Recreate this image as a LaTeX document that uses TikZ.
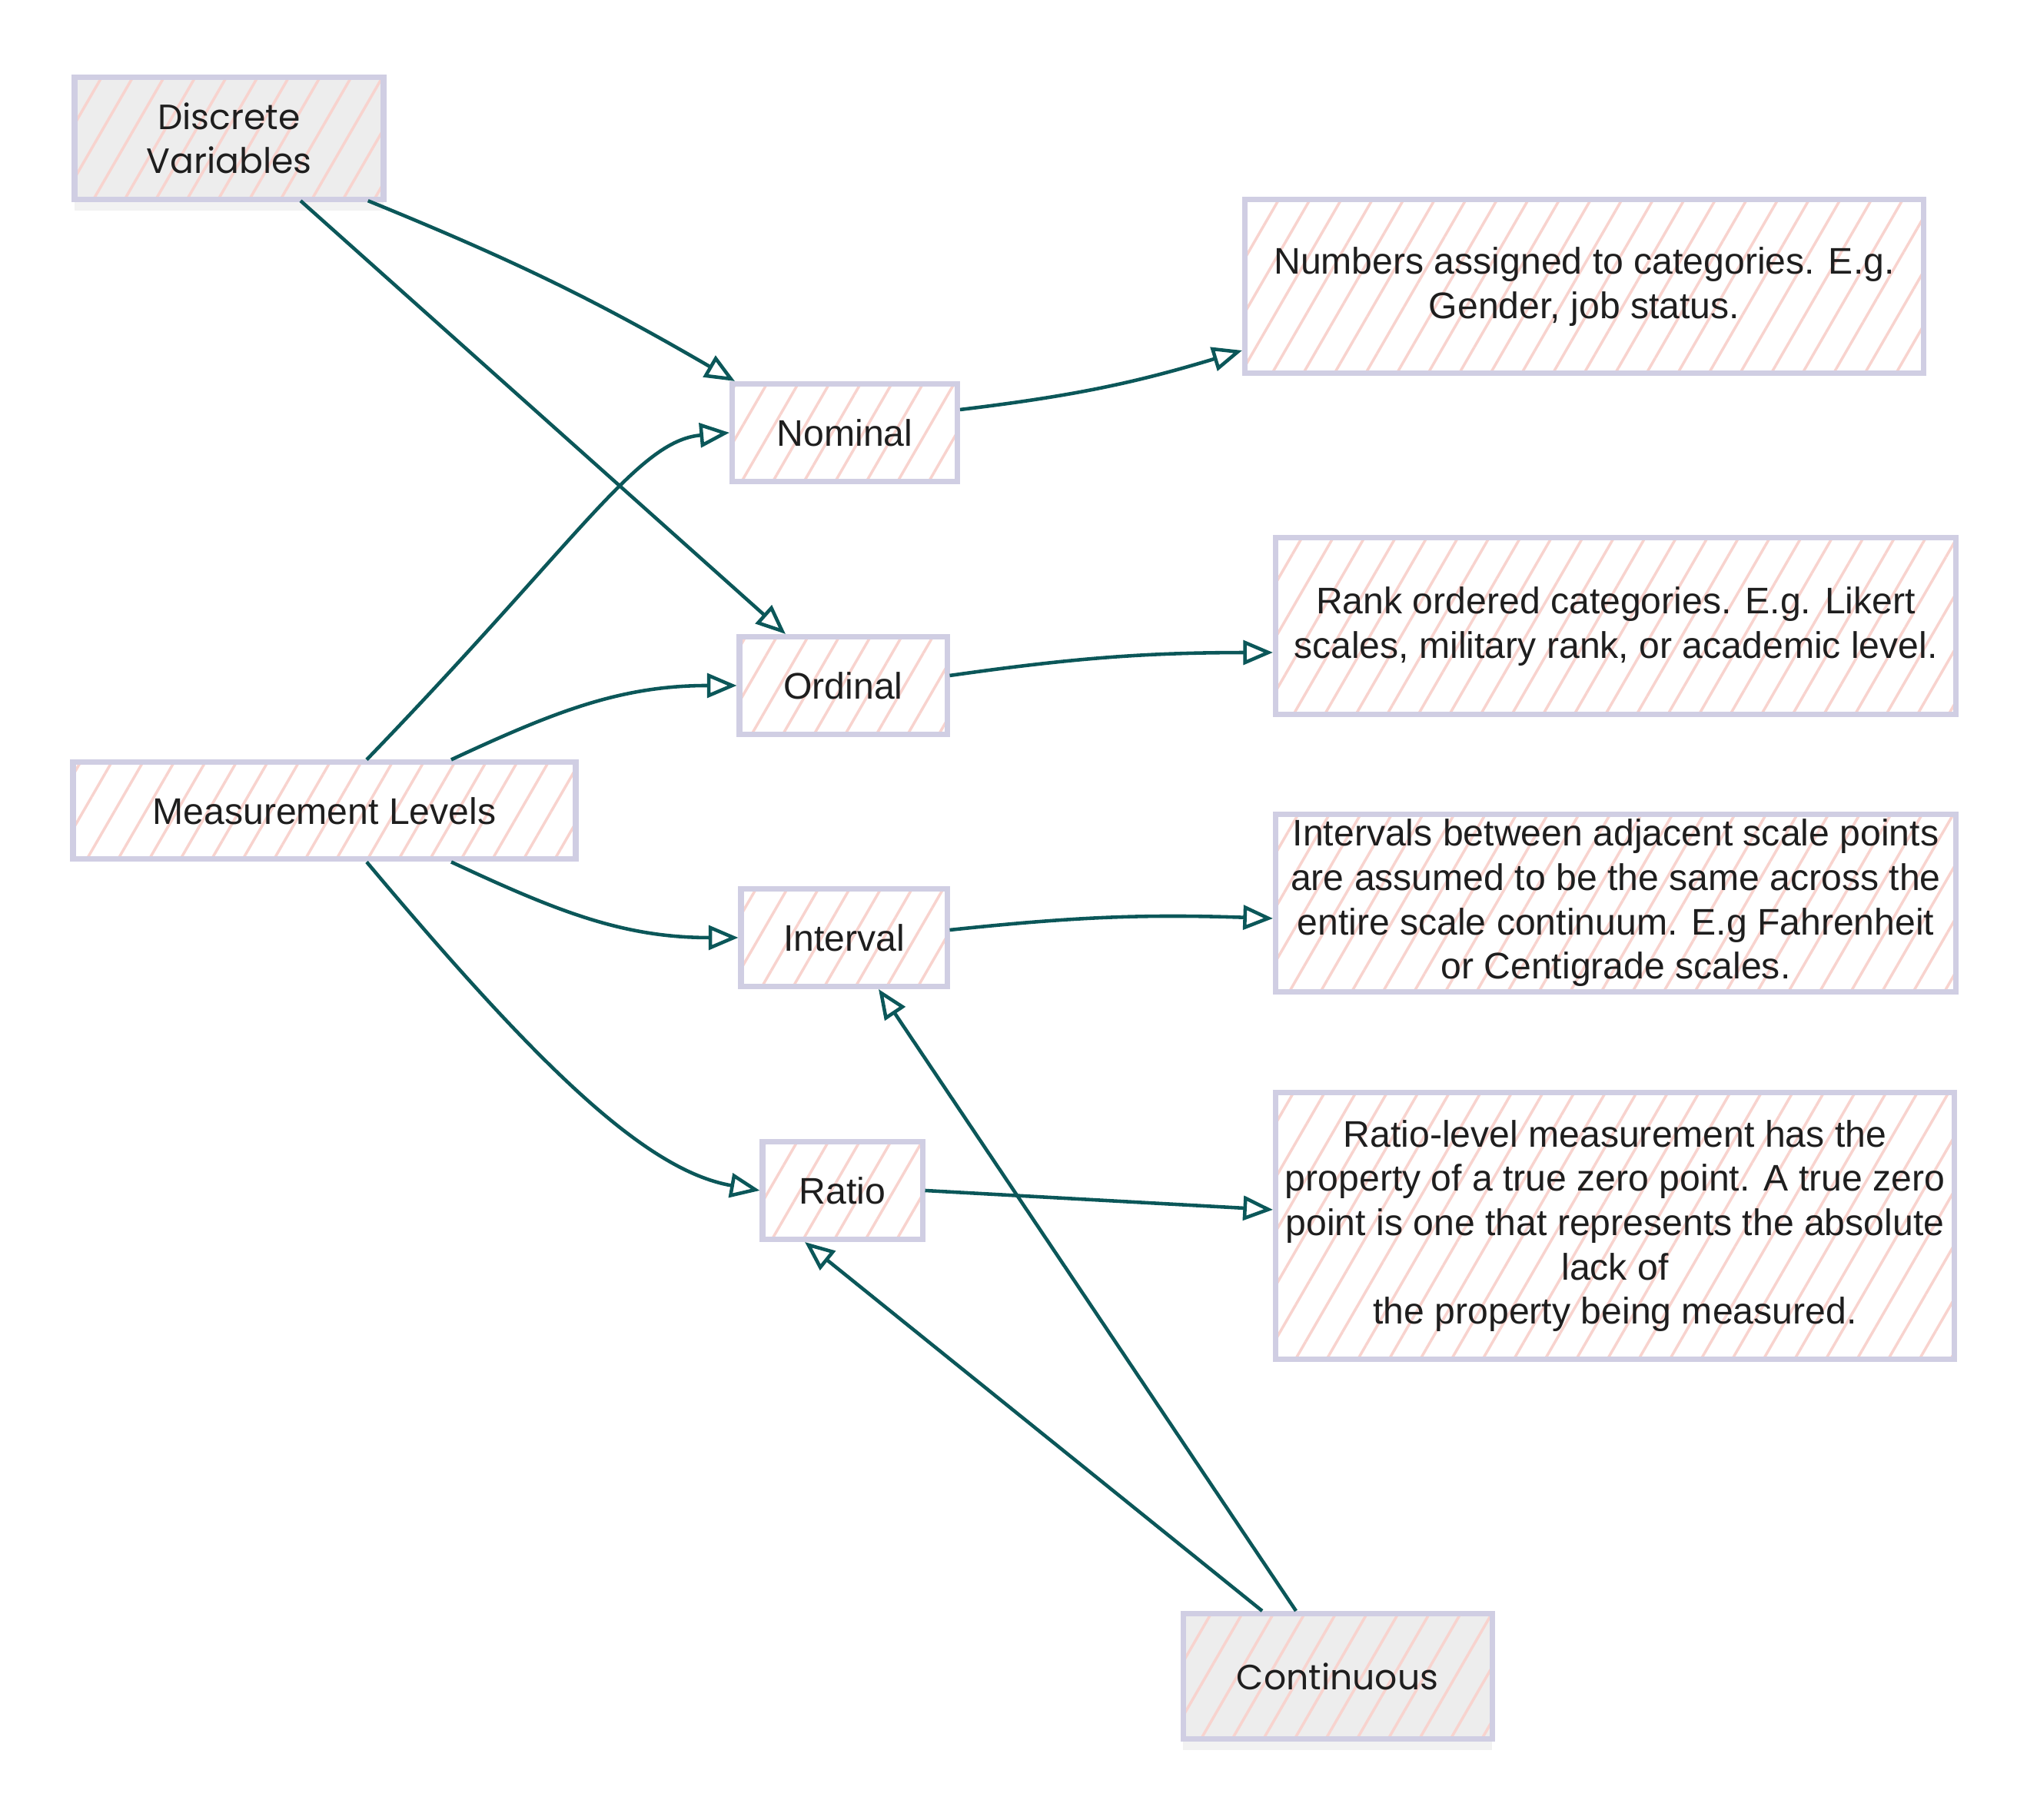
\documentclass[tikz,border=0pt]{standalone}
\usepackage{fontspec}
\setmainfont{Liberation Sans}
\newfontfamily\handfont{Poppins}
\usetikzlibrary{calc,arrows.meta,patterns.meta,shadows}

\definecolor{edge}{HTML}{0B5759}
\definecolor{boxline}{HTML}{D0CEE3}
\definecolor{hatch}{HTML}{F8D3CE}
\definecolor{ink}{HTML}{1E1E1E}
\definecolor{paper}{HTML}{EDEDED}

\tikzset{
  lvl/.style={draw=boxline, line width=2pt, inner sep=0pt, align=center, text=ink,
    pattern={Lines[angle=60,distance=10pt,line width=1pt]}, pattern color=hatch,
    font=\fontsize{13.7}{16.4}\selectfont},
  kind/.style={lvl, drop shadow={opacity=0.1,shadow xshift=0pt,shadow yshift=-4pt},
    preaction={fill=paper}, font=\handfont\fontsize{13}{16.2}\selectfont},
  link/.style={draw=edge, line width=1.3pt, -{Triangle[open,length=11pt,width=9pt]}},
}

\begin{document}
\begin{tikzpicture}

\useasboundingbox (0,0) rectangle (26.24,23.68);

%Drawing variable kinds
\node[kind, minimum width=4.02cm, minimum height=1.59cm] (disc) at (2.98,21.88) {Discrete\\Variables};
\node[kind, minimum width=4.02cm, minimum height=1.63cm] (cont) at (17.40,1.87) {Continuous};

%Drawing levels
\node[lvl, minimum width=6.54cm, minimum height=1.26cm] (ml) at (4.22,13.13) {Measurement Levels};
\node[lvl, minimum width=2.93cm, minimum height=1.27cm] (nom) at (10.99,18.05) {Nominal};
\node[lvl, minimum width=2.70cm, minimum height=1.27cm] (ord) at (10.97,14.76) {Ordinal};
\node[lvl, minimum width=2.68cm, minimum height=1.27cm] (intv) at (10.98,11.48) {Interval};
\node[lvl, minimum width=2.08cm, minimum height=1.27cm] (ratio) at (10.96,8.19) {Ratio};

%Drawing descriptions
\node[lvl, minimum width=8.83cm, minimum height=2.26cm] (d1) at (20.61,19.95)
  {Numbers assigned to categories. E.g.\\Gender, job status.};
\node[lvl, minimum width=8.85cm, minimum height=2.30cm] (d2) at (21.02,15.53)
  {Rank ordered categories. E.g. Likert\\scales, military rank, or academic level.};
\node[lvl, minimum width=8.85cm, minimum height=2.31cm] (d3) at (21.02,11.93)
  {Intervals between adjacent scale points\\are assumed to be the same across the\\entire scale continuum. E.g Fahrenheit\\or Centigrade scales.};
\node[lvl, minimum width=8.83cm, minimum height=3.47cm] (d4) at (21.01,7.73)
  {Ratio-level measurement has the\\property of a true zero point. A true zero\\point is one that represents the absolute\\lack of\\the property being measured.};

%connecting them
\draw[link] ($(disc.south east)+(-0.22,0)$) to[bend left=4] ($(nom.north west)+(0.07,0)$);
\draw[link] ($(disc.south)+(0.93,0)$) -- ($(ord.north)+(-0.75,0)$);
\draw[link] ($(ml.north)+(0.55,0)$) to[out=46,in=185,out distance=4cm,in distance=1.2cm] (nom.west);
\draw[link] ($(ml.north)+(1.65,0)$) to[out=25,in=180] (ord.west);
\draw[link] ($(ml.south)+(1.65,0)$) to[out=-25,in=180] (intv.west);
\draw[link] ($(ml.south)+(0.55,0)$) to[out=-50,in=170,out distance=3.5cm,in distance=1.5cm] (ratio.west);

%levels to descriptions
\draw[link] ($(nom.east)+(0,0.3)$) to[bend right=5] ($(d1.west)+(0,-0.83)$);
\draw[link] ($(ord.east)+(0,0.13)$) to[bend left=4] ($(d2.west)+(0,-0.34)$);
\draw[link] ($(intv.east)+(0,0.1)$) to[bend left=4] ($(d3.west)+(0,-0.2)$);
\draw[link] (ratio.east) -- ($(d4.west)+(0,0.21)$);

%continuous to levels
\draw[link] ($(cont.north)+(-0.54,0)$) -- ($(intv.south)+(0.45,0)$);
\draw[link] ($(cont.north)+(-0.98,0)$) -- ($(ratio.south)+(-0.49,0)$);

\end{tikzpicture}
\end{document}
